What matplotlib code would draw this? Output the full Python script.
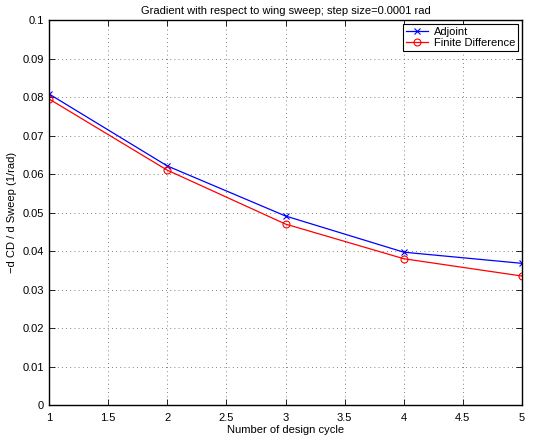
import numpy as np
import matplotlib
matplotlib.use("Agg")
import matplotlib.pyplot as plt

plt.rcParams['font.family'] = ['Liberation Sans', 'DejaVu Sans']

cycles = [1, 2, 3, 4, 5]
adjoint = [0.0808, 0.0621, 0.0491, 0.0397, 0.0368]
finite_diff = [0.0795, 0.0610, 0.0470, 0.0380, 0.0335]
x_ticks = [1, 1.5, 2, 2.5, 3, 3.5, 4, 4.5, 5]
x_labels = ['1', '1.5', '2', '2.5', '3', '3.5', '4', '4.5', '5']
y_ticks = [0, 0.01, 0.02, 0.03, 0.04, 0.05, 0.06, 0.07, 0.08, 0.09, 0.1]
y_labels = ['0', '0.01', '0.02', '0.03', '0.04', '0.05', '0.06', '0.07', '0.08', '0.09', '0.1']

fs = 8

fig = plt.figure(figsize=(5.34, 4.4), dpi=100)
ax = fig.add_axes([0.0918, 0.0795, 0.8857, 0.875])

ax.plot(cycles, adjoint, color='b', marker='x', markersize=4, linewidth=0.9,
        markeredgewidth=0.8, label='Adjoint')
ax.plot(cycles, finite_diff, color='r', marker='o', markersize=5, linewidth=0.9,
        markerfacecolor='none', markeredgewidth=0.8, label='Finite Difference')

ax.set_xlim(1, 5)
ax.set_ylim(0, 0.1)
ax.set_xticks(x_ticks)
ax.set_xticklabels(x_labels)
ax.set_yticks(y_ticks)
ax.set_yticklabels(y_labels)
ax.tick_params(direction='in', length=4, labelsize=fs, top=True, right=True, width=0.6)
ax.tick_params(axis='x', pad=6)
ax.grid(True, linestyle=(0, (1, 4)), color='0.35', linewidth=0.6)
for s in ax.spines.values():
    s.set_linewidth(1.0)

ax.set_title('Gradient with respect to wing sweep; step size=0.0001 rad', fontsize=fs, pad=4)
ax.set_xlabel('Number of design cycle', fontsize=fs, labelpad=1)
ax.set_ylabel('\u2212d CD / d Sweep (1/rad)', fontsize=fs, labelpad=4)

leg = ax.legend(loc='upper right', fontsize=fs, fancybox=False, framealpha=1,
                edgecolor='k', borderaxespad=0.35, handlelength=2.0,
                borderpad=0.25, labelspacing=0.15, handletextpad=0.5)
leg.get_frame().set_linewidth(0.8)

fig.savefig('out.png', dpi=100)
